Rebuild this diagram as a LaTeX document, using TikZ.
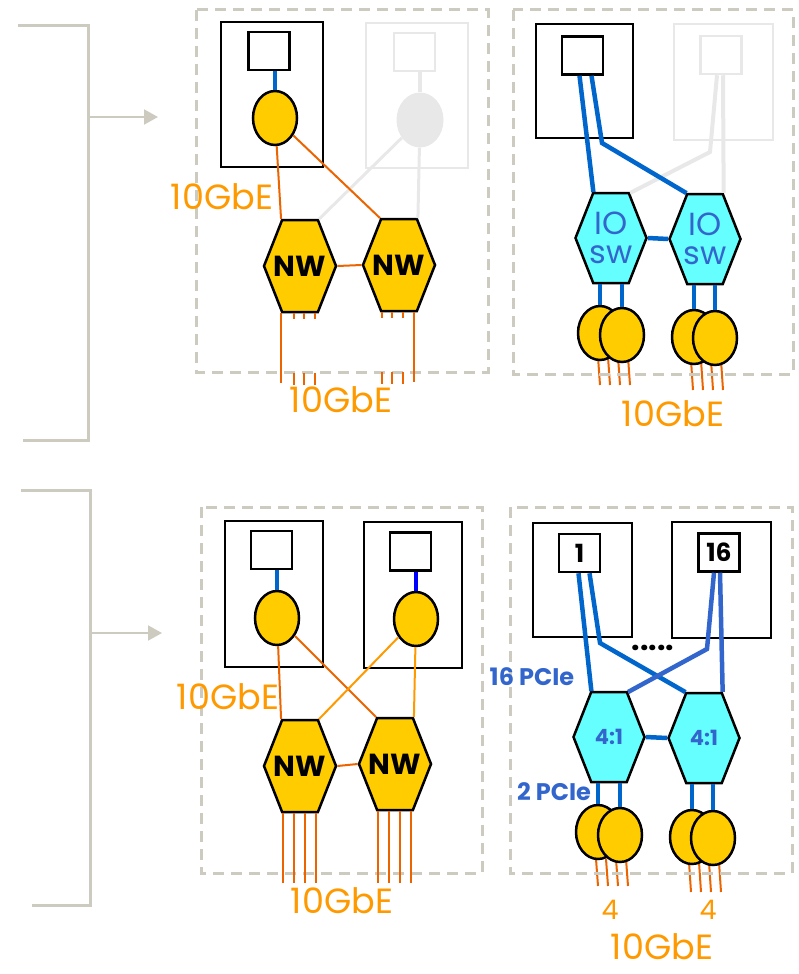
\documentclass[tikz,border=0pt]{standalone}
\usepackage{fontspec}
\setmainfont{Poppins}
\usepackage{xcolor}
\usetikzlibrary{shapes.geometric,shapes.symbols,arrows.meta,positioning,backgrounds}

\definecolor{brkgray}{RGB}{205,203,192}
\definecolor{ethdark}{RGB}{235,100,0}
\definecolor{ethlite}{RGB}{255,153,0}
\definecolor{gold}{RGB}{255,204,0}
\definecolor{swcyan}{RGB}{102,255,255}
\definecolor{pciblue}{RGB}{0,102,204}
\definecolor{txblue}{RGB}{51,102,204}
\definecolor{ghost}{RGB}{232,232,232}

% text that does not widen the hexagon
\newcommand{\hexlbl}[1]{\makebox[0pt]{#1}}

\begin{document}
\begin{tikzpicture}[x=1pt, y=-1pt,
  every node/.style={inner sep=0pt},
  panel/.style ={draw=brkgray, line width=3pt, dash pattern=on 11pt off 7pt},
  brk/.style   ={draw=brkgray, line width=3pt},
  feed/.style  ={-{Triangle[length=14pt,width=15pt]}, draw=brkgray, line width=2pt},
  host/.style  ={rectangle, draw=black, line width=2.5pt, minimum width=102pt, minimum height=145pt},
  hostg/.style ={host, draw=ghost},
  sock/.style  ={rectangle, draw=black, fill=white, line width=2.5pt, minimum width=41pt, minimum height=38pt,
                 font=\bfseries\fontsize{25}{25}\selectfont},
  sockg/.style ={sock, draw=ghost},
  nic/.style   ={ellipse, draw=black, fill=gold, line width=2.5pt, minimum width=44pt, minimum height=54pt},
  nicg/.style  ={ellipse, fill=ghost, minimum width=47pt, minimum height=55pt},
  hexa/.style  ={signal, signal to=east and west, signal pointer angle=137, draw=black, line width=2.5pt,
                 minimum width=72pt, minimum height=92pt},
  nw/.style    ={hexa, fill=gold, font=\bfseries\fontsize{29}{29}\selectfont},
  iosw/.style  ={hexa, fill=swcyan, minimum width=71pt, minimum height=90pt, text=txblue, align=center,
                 font=\fontsize{32}{29}\selectfont},
  mux/.style   ={hexa, fill=swcyan, minimum width=71pt, minimum height=90pt, text=txblue,
                 font=\bfseries\fontsize{21}{21}\selectfont},
  pcie/.style  ={draw=pciblue, line width=4.5pt},
  ghostln/.style={draw=ghost, line width=4pt},
  eth/.style   ={draw=ethdark, line width=2pt},
  ethl/.style  ={draw=ethlite, line width=2pt},
  wire/.style  ={draw=ethdark, line width=2pt},
  stub/.style  ={wire, dash pattern=on 6pt off 54pt on 12pt},
  lbl/.style   ={text=ethlite, font=\fontsize{35}{35}\selectfont},
  plbl/.style  ={text=txblue, font=\bfseries\fontsize{24}{24}\selectfont},
]
\useasboundingbox (0,0) rectangle (798,974);

%% ─── Left brackets ───────────────────────────────────────────────────────────
\draw[brk] (18,26) -- (88,26) -- (88,440) -- (23,440);
\coordinate (fa) at (88,117);
\coordinate (ta) at (158,117);
\draw[feed] (fa) -- (ta);

\draw[brk] (21,490) -- (90,490) -- (90,905) -- (32,905);
\coordinate (fb) at (90,633);
\coordinate (tb) at (162,633);
\draw[feed] (fb) -- (tb);

%% ─── Top left: NW pair ───────────────────────────────────────────────────────
\draw[panel] (196,10) rectangle (488,372);

\node[host]  (HA) at (272,94.5)  {};
\node[hostg] (HB) at (417,95.5)  {};
\node[sock]  (SA) at (269,51)    {};
\node[sockg] (SB) at (414.5,52)  {};
\node[nic]   (NA) at (275,118)   {};
\node[nicg]  (NB) at (420,120)   {};
\node[nw]    (WA) at (300,266)   {\hexlbl{NW}};
\node[nw]    (WB) at (399,265)   {\hexlbl{NW}};

\draw[pcie]    (NA |- SA.south) -- (NA.north);
\draw[ghostln] (NB |- SB.south) -- (NB.north);

% greyed host links go under the live ones
\draw[ghostln, line width=3pt] (NB) -- (WA.68);
\draw[ghostln, line width=3pt] (NB) -- (WB.68);
\draw[eth] (NA) -- (WA.112);
\draw[eth] (NA) -- (WB.112);
\draw[eth] (WA.east) -- (WB.west);

% uplinks, middle part cut away
\draw[wire] ([xshift=-19pt]WA.south) -- ++(0,70);
\foreach \dx in {-6,4,15}  { \draw[stub] ([xshift=\dx pt]WA.south) -- ++(0,72); }
\foreach \dx in {-17,-7,4} { \draw[stub] ([xshift=\dx pt]WB.south) -- ++(0,72); }
\draw[wire] ([xshift=15pt]WB.south) -- ++(0,70);

\node[lbl] (GbA) at (222,197) {10GbE};
\node[lbl] (GbB) at (341,400) {10GbE};

%% ─── Top right: IO switch pair ───────────────────────────────────────────────
\draw[panel] (513,10) rectangle (793,374);

\node[host,  minimum width=97pt, minimum height=114pt] (HC) at (584.5,81) {};
\node[hostg, minimum width=99pt, minimum height=116pt] (HD) at (723.5,82) {};
\node[sock]  (SC) at (582.5,55.5) {};
\node[sockg] (SD) at (721,55)     {};
\node[iosw]  (IA) at (611,238)    {\hexlbl{IO}\\\hexlbl{sw}};
\node[iosw]  (IB) at (705,239)    {\hexlbl{IO}\\\hexlbl{sw}};

\coordinate (kA) at (602,143);
\coordinate (kB) at (710,152);

\draw[ghostln] ([xshift=-4pt]SD.south) -- (kB) -- (IA.67);
\draw[ghostln] ([xshift=2pt]SD.south) -- (IB.68);
\draw[pcie] ([xshift=-3pt]SC.south) -- (IA.111);
\draw[pcie] ([xshift=9pt]SC.south) -- (kA) -- (IB.112);
\draw[pcie] (IA.east) -- (IB.west);

\node[nic] (PA1) at (600,333) {};
\node[nic] (PA2) at (622,335) {};
\node[nic] (PB1) at (694,337) {};
\node[nic] (PB2) at (715,338) {};

\foreach \p/\s in {PA1/IA, PA2/IA, PB1/IB, PB2/IB} {
  \draw[pcie] (\p |- \s.south) -- (\p.north);
}

\begin{scope}[on background layer]
  \foreach \dx in {-24,-14,-4,6} {
    \draw[wire] ([xshift=\dx pt]PA2.center) ++(0,22) -- ++(2,28);
    \draw[wire] ([xshift=\dx pt]PB2.center) ++(0,22) -- ++(2,30);
  }
\end{scope}

\node[lbl] (GbC) at (673,414) {10GbE};

%% ─── Bottom left: NW pair, both hosts live ───────────────────────────────────
\draw[panel] (201,507) rectangle (482,873);

\node[host, minimum width=98pt, minimum height=146pt] (HE) at (274,594) {};
\node[host, minimum width=98pt, minimum height=146pt] (HF) at (413,595) {};
\node[sock] (SE) at (271.5,550)  {};
\node[sock] (SF) at (410.5,551.5) {};
\node[nic]  (NE) at (277,618)    {};
\node[nic]  (NF) at (416,619)    {};
\node[nw]   (WC) at (300,766)    {\hexlbl{NW}};
\node[nw]   (WD) at (395,764)    {\hexlbl{NW}};

\draw[pcie]             (NE |- SE.south) -- (NE.north);
\draw[pcie, draw=blue]  (NF |- SF.south) -- (NF.north);

\draw[eth]  (NE) -- (WC.112);
\draw[eth]  (NE) -- (WD.112);
\draw[ethl] (NF) -- (WC.68);
\draw[ethl] (NF) -- (WD.68);
\draw[eth]  (WC.east) -- (WD.west);

\foreach \dx in {-17,-6,5,16} {
  \draw[wire] ([xshift=\dx pt]WC.south) -- ++(0,70);
  \draw[wire] ([xshift=\dx pt]WD.south) -- ++(0,72);
}

\node[lbl] (GbD) at (228,697) {10GbE};
\node[lbl] (GbE) at (342,901) {10GbE};

%% ─── Bottom right: 4:1 muxes, 16 hosts ───────────────────────────────────────
\draw[panel] (510,507) rectangle (792,873);

\node[host, minimum width=99pt, minimum height=114pt] (HG) at (582.5,580) {};
\node[host, minimum width=99pt, minimum height=116pt] (HH) at (721.5,580) {};
\node[sock] (SG) at (579.5,553)  {1};
\node[sock] (SH) at (719,552.5)  {16};
\node[mux]  (MA) at (609,737)    {\hexlbl{4:1}};
\node[mux]  (MB) at (704,738)    {\hexlbl{4:1}};

\coordinate (kC) at (600,643);
\coordinate (kD) at (707,649);

\draw[pcie] ([xshift=-1pt]SG.south) -- (MA.111);
\draw[pcie] ([xshift=10pt]SG.south) -- (kC) -- (MB.112);
\draw[pcie, draw=txblue] ([xshift=-5pt]SH.south) -- (kD) -- (MA.67);
\draw[pcie, draw=txblue] ([xshift=1pt]SH.south) -- (MB.68);
\draw[pcie] (MA.east) -- (MB.west);

\node[font=\bfseries\fontsize{30}{30}\selectfont] (Dots) at (653,648) {.....};

\node[nic] (QA1) at (598,832) {};
\node[nic] (QA2) at (620,835) {};
\node[nic] (QB1) at (692,837) {};
\node[nic] (QB2) at (713,838) {};

\foreach \p/\s in {QA1/MA, QA2/MA, QB1/MB, QB2/MB} {
  \draw[pcie] (\p |- \s.south) -- (\p.north);
}

\begin{scope}[on background layer]
  \foreach \dx in {-24,-14,-4,6} {
    \draw[wire] ([xshift=\dx pt]QA2.center) ++(0,24) -- ++(2,27);
    \draw[wire] ([xshift=\dx pt]QB2.center) ++(0,24) -- ++(2,30);
  }
\end{scope}

\node[plbl] (PcA) at (532,677) {16 PCIe};
\node[plbl] (PcB) at (554,792) {2 PCIe};
\node[lbl, font=\fontsize{27}{27}\selectfont] (CtA) at (610,910) {4};
\node[lbl, font=\fontsize{27}{27}\selectfont] (CtB) at (708,910) {4};
\node[lbl] (GbF) at (662,947) {10GbE};

\end{tikzpicture}
\end{document}
